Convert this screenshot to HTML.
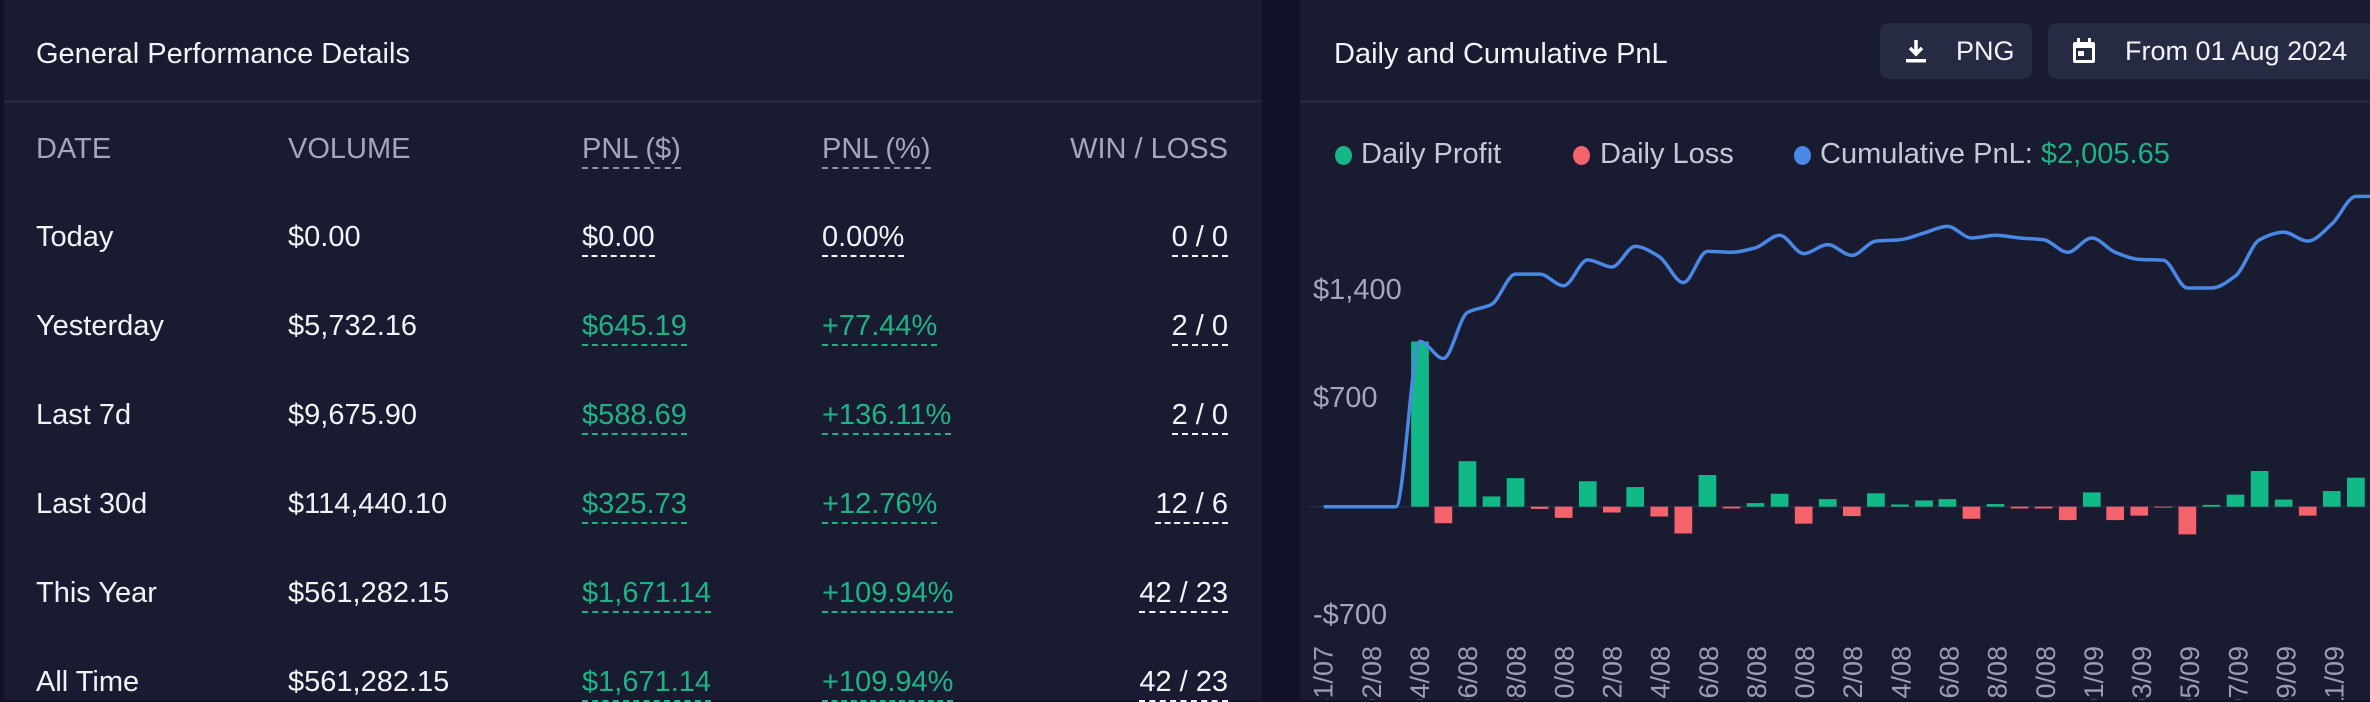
<!DOCTYPE html>
<html><head><meta charset="utf-8"><style>
*{margin:0;padding:0;box-sizing:border-box}
body{width:2370px;height:700px;background:#11122a;overflow:hidden;font-family:"Liberation Sans",sans-serif;position:relative}
.panel{position:absolute;top:0;height:700px;background:#191b30}
.t{position:absolute;white-space:nowrap;font-size:29px;line-height:1}
.hd{color:#a3a6bd}
.w{color:#f2f3f8}
.g{color:#1eb386}
.u{border-bottom:2px dashed currentColor;padding-bottom:3px}
.hu{border-bottom:2px dashed #8e91a8;padding-bottom:3px}
.btn{position:absolute;background:#262a42;border-radius:8px;top:23px;height:56px}
</style></head><body>
<div class="panel" style="left:4px;width:1258px">
  <div style="position:absolute;left:0;right:0;top:100px;height:3px;background:#23263d"></div>
</div>
<div class="t w" style="left:36px;top:40px">General Performance Details</div>
<div class="t hd" style="left:36px;top:135px">DATE</div>
<div class="t hd" style="left:288px;top:135px">VOLUME</div>
<div class="t hd hu" style="left:582px;top:135px">PNL ($)</div>
<div class="t hd hu" style="left:822px;top:135px">PNL (%)</div>
<div class="t hd" style="right:1142px;top:135px">WIN / LOSS</div>

<div class="t w" style="left:36px;top:223px">Today</div>
<div class="t w" style="left:288px;top:223px">$0.00</div>
<div class="t w u" style="left:582px;top:223px">$0.00</div>
<div class="t w u" style="left:822px;top:223px">0.00%</div>
<div class="t w u" style="right:1142px;top:223px">0 / 0</div>

<div class="t w" style="left:36px;top:312px">Yesterday</div>
<div class="t w" style="left:288px;top:312px">$5,732.16</div>
<div class="t g u" style="left:582px;top:312px">$645.19</div>
<div class="t g u" style="left:822px;top:312px">+77.44%</div>
<div class="t w u" style="right:1142px;top:312px">2 / 0</div>

<div class="t w" style="left:36px;top:401px">Last 7d</div>
<div class="t w" style="left:288px;top:401px">$9,675.90</div>
<div class="t g u" style="left:582px;top:401px">$588.69</div>
<div class="t g u" style="left:822px;top:401px">+136.11%</div>
<div class="t w u" style="right:1142px;top:401px">2 / 0</div>

<div class="t w" style="left:36px;top:490px">Last 30d</div>
<div class="t w" style="left:288px;top:490px">$114,440.10</div>
<div class="t g u" style="left:582px;top:490px">$325.73</div>
<div class="t g u" style="left:822px;top:490px">+12.76%</div>
<div class="t w u" style="right:1142px;top:490px">12 / 6</div>

<div class="t w" style="left:36px;top:579px">This Year</div>
<div class="t w" style="left:288px;top:579px">$561,282.15</div>
<div class="t g u" style="left:582px;top:579px">$1,671.14</div>
<div class="t g u" style="left:822px;top:579px">+109.94%</div>
<div class="t w u" style="right:1142px;top:579px">42 / 23</div>

<div class="t w" style="left:36px;top:668px">All Time</div>
<div class="t w" style="left:288px;top:668px">$561,282.15</div>
<div class="t g u" style="left:582px;top:668px">$1,671.14</div>
<div class="t g u" style="left:822px;top:668px">+109.94%</div>
<div class="t w u" style="right:1142px;top:668px">42 / 23</div>

<div class="panel" style="left:1300px;width:1070px">
  <div style="position:absolute;left:0;right:0;top:100px;height:3px;background:#23263d"></div>
</div>
<div class="t w" style="left:1334px;top:40px">Daily and Cumulative PnL</div>
<div class="btn" style="left:1880px;width:152px"></div>
<svg style="position:absolute;left:1904px;top:38px" width="24" height="26" viewBox="0 0 24 26"><path d="M12 2v13M6 10l6 6 6-6" stroke="#fff" stroke-width="3.5" fill="none"/><rect x="2" y="21" width="20" height="3.5" fill="#fff"/></svg>
<div class="t w" style="left:1956px;top:38px;font-size:27px">PNG</div>
<div class="btn" style="left:2048px;width:340px"></div>
<svg style="position:absolute;left:2071px;top:37px" width="26" height="28" viewBox="0 0 26 28"><rect x="2" y="5" width="22" height="21" rx="2" fill="#fff"/><rect x="6" y="1" width="3" height="6" fill="#fff"/><rect x="17" y="1" width="3" height="6" fill="#fff"/><rect x="5" y="11" width="16" height="12" fill="#262a42"/><rect x="7" y="14" width="6" height="5" fill="#fff"/></svg>
<div class="t w" style="left:2125px;top:38px;font-size:27px">From 01 Aug 2024</div>

<div style="position:absolute;left:1335px;top:146px;width:17px;height:19px;border-radius:50%;background:#13b886"></div>
<div class="t" style="left:1361px;top:140px;color:#c7c9d8">Daily Profit</div>
<div style="position:absolute;left:1573px;top:146px;width:17px;height:19px;border-radius:50%;background:#f4636b"></div>
<div class="t" style="left:1600px;top:140px;color:#c7c9d8">Daily Loss</div>
<div style="position:absolute;left:1794px;top:146px;width:17px;height:19px;border-radius:50%;background:#4a88e6"></div>
<div class="t" style="left:1820px;top:140px;color:#c7c9d8">Cumulative PnL: <span class="g">$2,005.65</span></div>

<div class="t" style="left:1313px;top:276px;color:#a3a6bd">$1,400</div>
<div class="t" style="left:1313px;top:384px;color:#a3a6bd">$700</div>
<div class="t" style="left:1313px;top:601px;color:#a3a6bd">-$700</div>

<svg style="position:absolute;left:0;top:0" width="2370" height="700">
<g transform="translate(1260,0) scale(0.70792,0.44643)">
<line x1="70" y1="1135" x2="1568" y2="1135" stroke="#2a2d45" stroke-width="3"/>
<g id="bars"></g>
<path id="ln" fill="none" stroke="#4a88e6" stroke-width="3.5" vector-effect="non-scaling-stroke" stroke-linejoin="round"/>
</g>
<g id="xl" font-family="Liberation Sans, sans-serif" font-size="27" fill="#9a9db5"></g>
</svg>
<script>
var b=[[226,370],[259,-37],[293,102],[327,23],[361,64],[395,-5],[429,-25],[463,57],[497,-13],[530,44],[564,-22],[598,-60],[632,71],[666,-4],[700,8],[734,29],[768,-38],[802,17],[836,-21],[870,30],[904,5],[938,14],[971,17],[1005,-27],[1039,6],[1073,-4],[1107,-4],[1141,-30],[1175,32],[1208,-30],[1242,-20],[1276,-2],[1310,-62],[1344,4],[1378,27],[1412,80],[1446,16],[1480,-20],[1514,35],[1548,65]];
var s='';b.forEach(function(d){var h=d[1];if(h>=0)s+='<rect x="'+(d[0]-12.5)+'" y="'+(1135-h)+'" width="25" height="'+h+'" fill="#10b986"/>';else s+='<rect x="'+(d[0]-12.5)+'" y="1135" width="25" height="'+(-h)+'" fill="#f4636b"/>';});
document.getElementById('bars').innerHTML=s;
var P=[[90,1135],[124,1135],[158,1135],[192,1135],[226,765],[259,803],[293,700],[327,682],[361,614],[395,614],[429,640],[463,582],[497,598],[530,552],[564,575],[598,633],[632,563],[666,565],[700,555],[734,527],[768,568],[802,548],[836,572],[870,540],[904,537],[938,522],[971,507],[1005,533],[1039,527],[1073,533],[1107,537],[1141,565],[1175,533],[1208,565],[1242,581],[1276,583],[1310,645],[1344,645],[1378,618],[1412,537],[1446,520],[1480,540],[1514,502],[1548,440],[1570,440]];
// monotone cubic
var n=P.length,dl=[],m=[];
for(var i=0;i<n-1;i++)dl.push((P[i+1][1]-P[i][1])/(P[i+1][0]-P[i][0]));
m[0]=dl[0];m[n-1]=dl[n-2];
for(i=1;i<n-1;i++){if(dl[i-1]*dl[i]<=0)m[i]=0;else m[i]=2/(1/dl[i-1]+1/dl[i]);}
var d='M'+P[0][0]+','+P[0][1];
for(i=0;i<n-1;i++){var h=(P[i+1][0]-P[i][0])/3;
d+=' C'+(P[i][0]+h)+','+(P[i][1]+m[i]*h)+' '+(P[i+1][0]-h)+','+(P[i+1][1]-m[i+1]*h)+' '+P[i+1][0]+','+P[i+1][1];}
document.getElementById('ln').setAttribute('d',d);
var L=['31/07'];for(var j=2;j<=30;j+=2)L.push((j<10?'0':'')+j+'/08');['01/09','03/09','05/09','07/09','09/09','11/09'].forEach(function(x){L.push(x)});
var t='';L.forEach(function(l,i){var x=1260+(90+68*i)/1.4126+9;t+='<text transform="translate('+x+',646) rotate(-90)" text-anchor="end">'+l+'</text>';});
document.getElementById('xl').innerHTML=t;
</script>
</body></html>
